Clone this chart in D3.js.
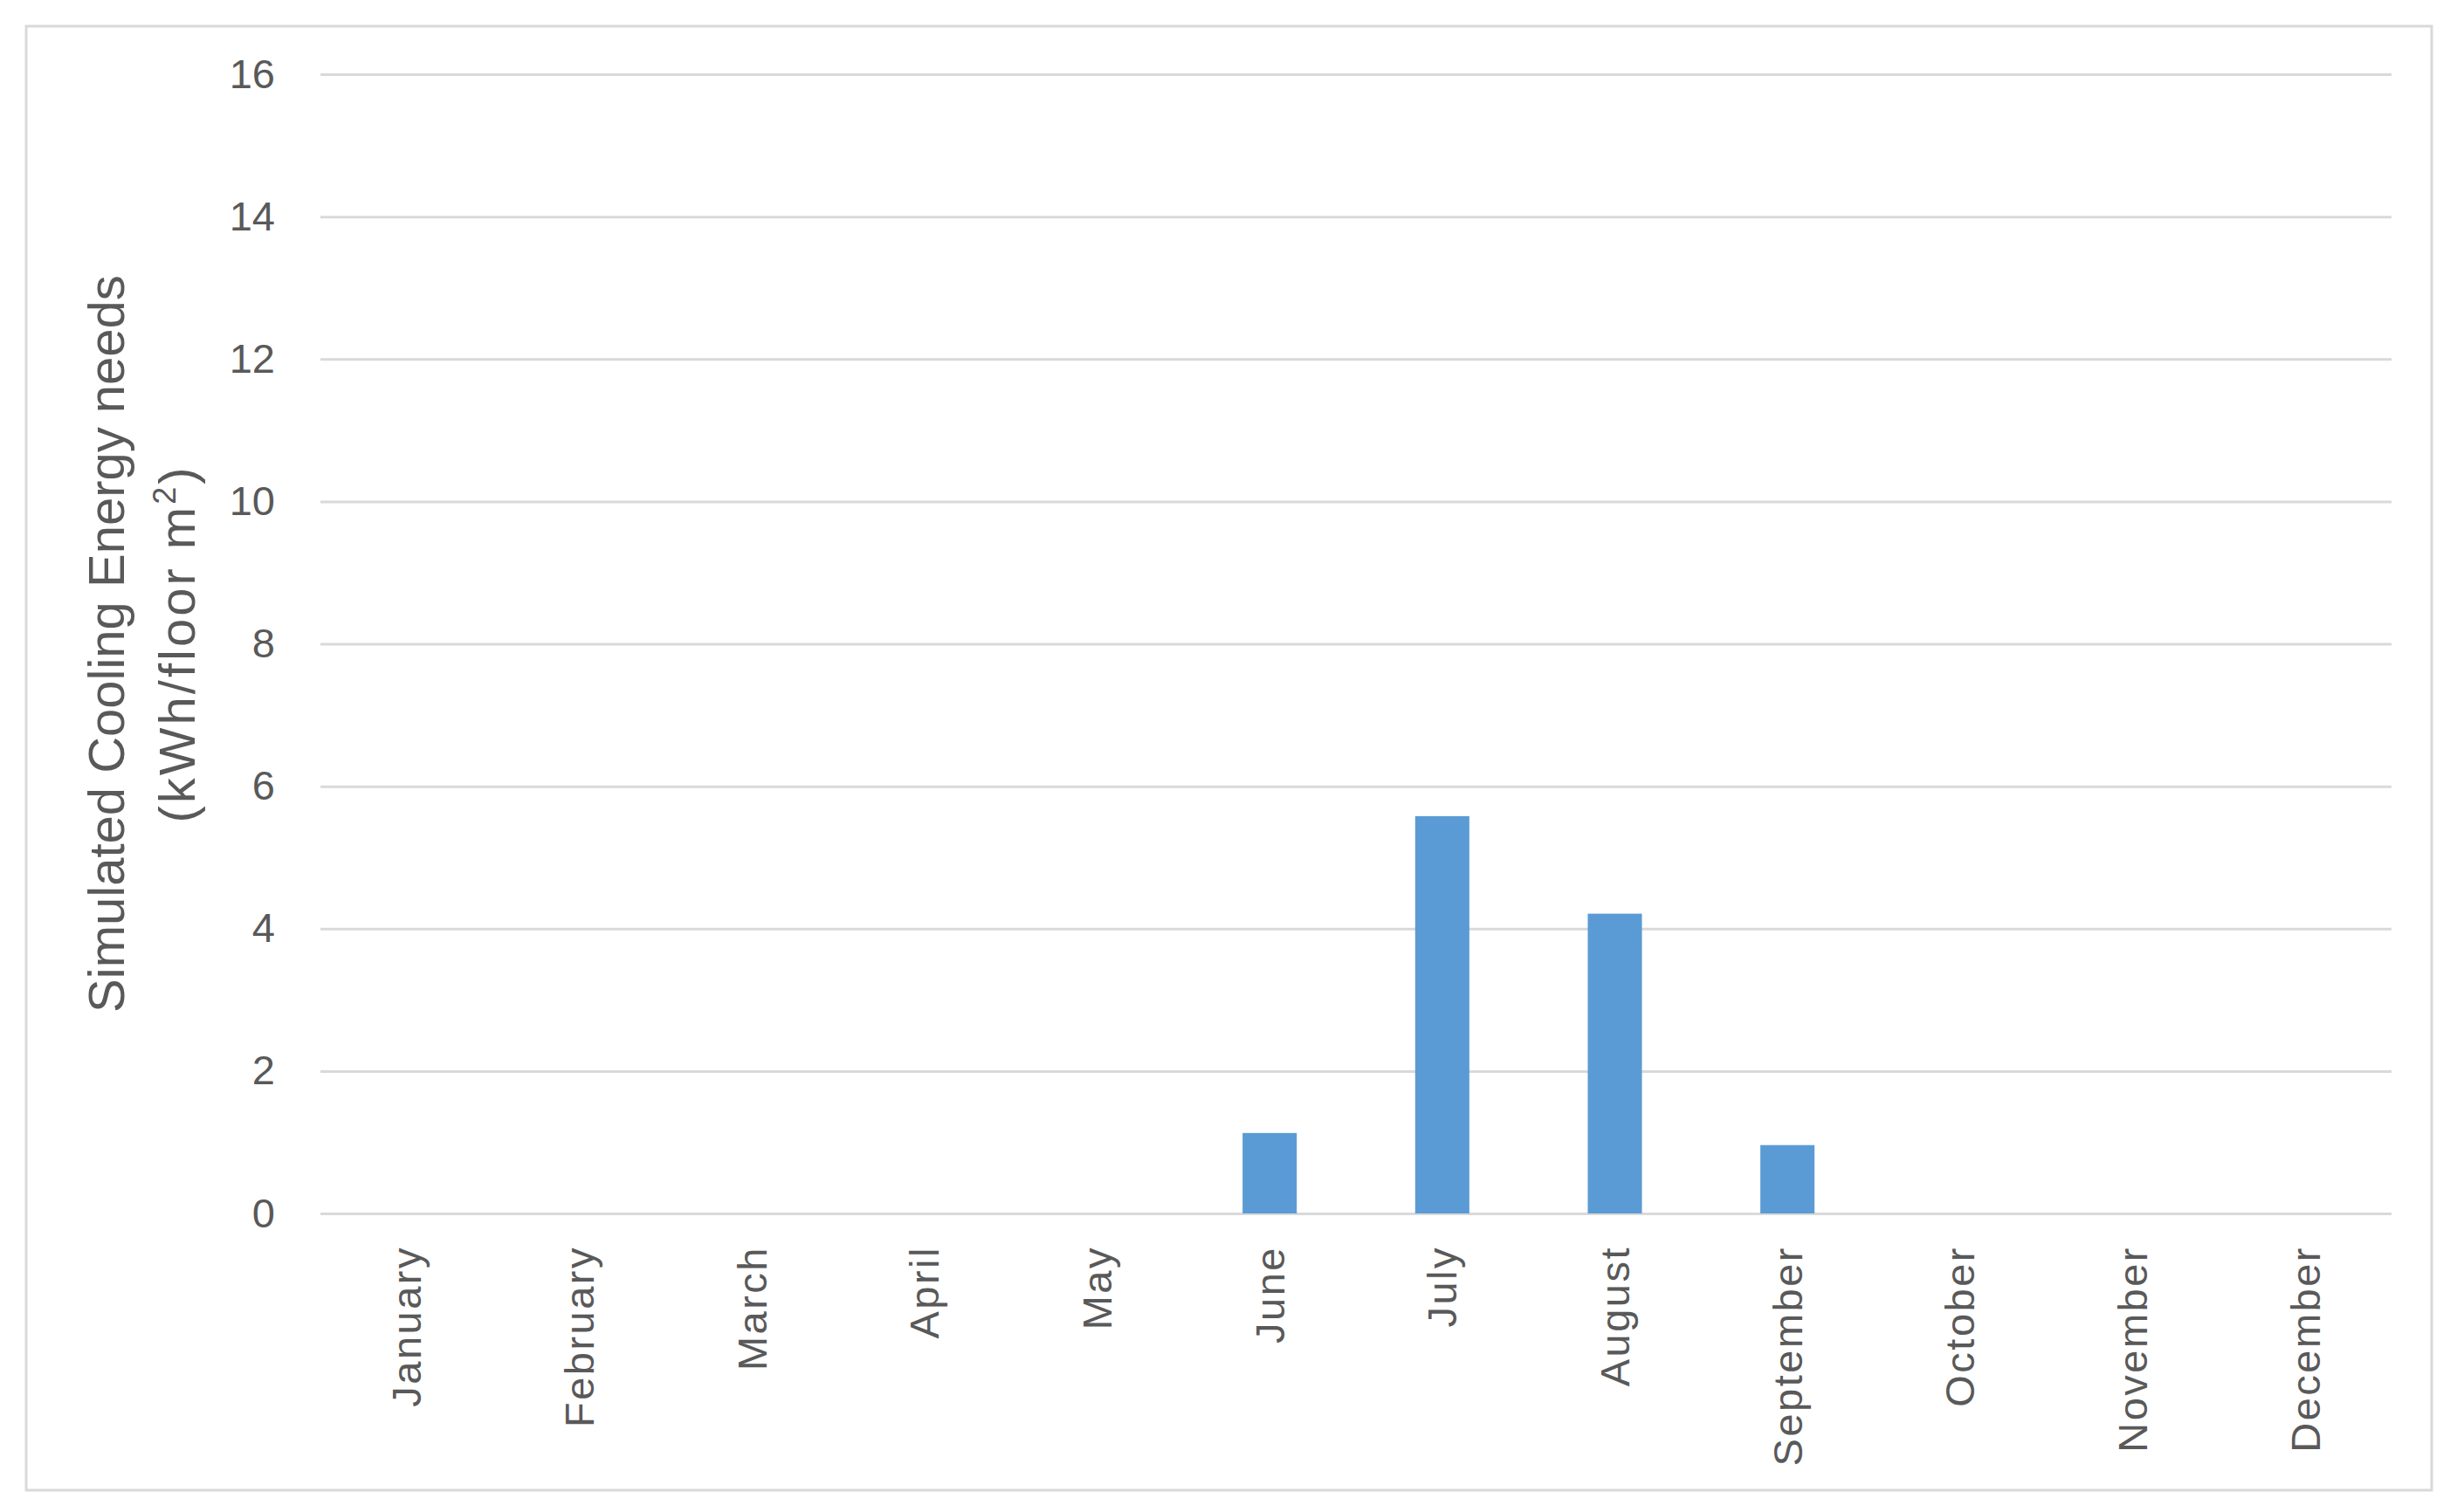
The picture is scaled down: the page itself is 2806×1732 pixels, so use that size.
<!DOCTYPE html>
<html>
<head>
<meta charset="utf-8">
<script src="https://cdn.jsdelivr.net/npm/d3@7"></script>
<style>
  body { margin: 0; background: #fff; }
  text { font-family: "Liberation Sans", Arial, sans-serif; fill: #595959; }
</style>
</head>
<body>
<div id="chart"></div>
<script>
// data
const months = ["January", "February", "March", "April", "May", "June",
  "July", "August", "September", "October", "November", "December"];
const cooling = [0, 0, 0, 0, 0, 1.13, 5.58, 4.21, 0.96, 0, 0, 0];
const yTicks = [0, 2, 4, 6, 8, 10, 12, 14, 16];
const yTitle = "Simulated Cooling Energy needs";
const yUnit = "(kWh/floor m";

const W = 2806, H = 1732;
const margin = { top: 85, right: 67, bottom: 342, left: 367 };
const width = W - margin.left - margin.right;
const height = H - margin.top - margin.bottom;

const svg = d3.select("#chart")
  .append("svg")
  .attr("width", W)
  .attr("height", H);

svg.append("rect")
  .attr("width", W).attr("height", H)
  .attr("fill", "#fff");

// outer frame
svg.append("rect")
  .attr("x", 30).attr("y", 30)
  .attr("width", 2755).attr("height", 1677)
  .attr("fill", "none")
  .attr("stroke", "#d9d9d9")
  .attr("stroke-width", 3);

const g = svg.append("g")
  .attr("transform", `translate(${margin.left},${margin.top})`);

const x = d3.scaleBand()
  .domain(months)
  .range([0, width])
  .paddingInner(0.686)
  .paddingOuter(0.343);

const y = d3.scaleLinear()
  .domain([0, 16])
  .range([height, 0]);

// y axis + gridlines
const yAxis = g.append("g")
  .call(d3.axisLeft(y).tickValues(yTicks).tickSize(-width).tickPadding(52));
yAxis.select(".domain").remove();
yAxis.selectAll(".tick line")
  .attr("stroke", "#d9d9d9")
  .attr("stroke-width", 3);
yAxis.selectAll(".tick text")
  .attr("font-size", 47)
  .attr("fill", "#595959");

// x axis labels
const xAxis = g.append("g")
  .attr("transform", `translate(0,${height})`)
  .call(d3.axisBottom(x).tickSize(0));
xAxis.select(".domain").remove();
xAxis.selectAll(".tick text")
  .attr("font-size", 47)
  .attr("letter-spacing", 2.5)
  .attr("fill", "#595959")
  .attr("text-anchor", "end")
  .attr("transform", "translate(0,37) rotate(-90)")
  .attr("x", 0)
  .attr("y", 0)
  .attr("dy", "0.35em");

// bars
g.selectAll(".bar")
  .data(cooling)
  .enter()
  .append("rect")
  .attr("class", "bar")
  .attr("x", (d, i) => x(months[i]))
  .attr("y", d => y(d))
  .attr("width", x.bandwidth())
  .attr("height", d => height - y(d))
  .attr("fill", "#5b9bd5");

// y axis title
const cy = margin.top + height / 2;
svg.append("text")
  .attr("transform", `translate(142,${cy}) rotate(-90)`)
  .attr("text-anchor", "middle")
  .attr("font-size", 58)
  .text(yTitle);

const unit = svg.append("text")
  .attr("transform", `translate(223,${cy}) rotate(-90)`)
  .attr("text-anchor", "middle")
  .attr("letter-spacing", 3)
  .attr("font-size", 58);
unit.append("tspan").text(yUnit);
unit.append("tspan").attr("font-size", 36).attr("dy", -22).text("2");
unit.append("tspan").attr("dy", 22).text(")");
</script>
</body>
</html>
